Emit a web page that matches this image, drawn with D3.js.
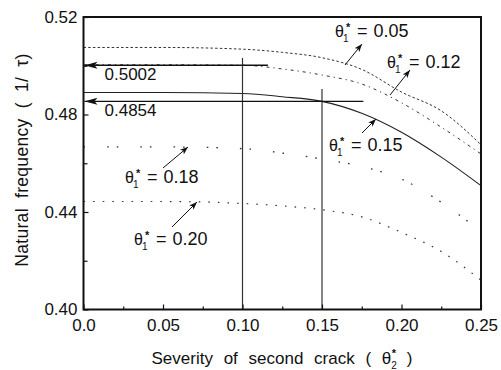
<!DOCTYPE html>
<html>
<head>
<meta charset="utf-8">
<script src="https://cdn.jsdelivr.net/npm/d3@7"></script>
<style>
  html, body { margin: 0; padding: 0; background: #fff; }
  svg text { font-family: "Liberation Sans", Arial, sans-serif; fill: #111; }
</style>
</head>
<body>
<svg id="chart" width="501" height="370"></svg>
<script>
// Severity of the second crack (theta2*)
const severity = [0, 0.05, 0.10, 0.125, 0.15, 0.175, 0.20, 0.225, 0.25];

// Natural frequency (1/tau) for each first-crack severity theta1*
const freq005 = [0.5075, 0.5075, 0.5068, 0.5055, 0.5033, 0.4985, 0.4892, 0.4815, 0.4676];
const freq012 = [0.5004, 0.5004, 0.5002, 0.4987, 0.4962, 0.4925, 0.4848, 0.4748, 0.4638];
const freq015 = [0.4890, 0.4890, 0.4886, 0.4873, 0.4854, 0.4805, 0.4727, 0.4625, 0.4508];
const freq018 = [0.4667, 0.4667, 0.4660, 0.4642, 0.4617, 0.4587, 0.4535, 0.4440, 0.4320];
const freq020 = [0.4443, 0.4443, 0.4435, 0.4425, 0.4409, 0.4380, 0.4316, 0.4238, 0.4120];

const seriesNames = ["0.05", "0.12", "0.15", "0.18", "0.20"];

// Read-off guides: second-crack severity and the frequency it gives
const guideSeverity = [0.10, 0.15];
const guideFrequency = [0.5002, 0.4854];
const guideTop = [0.5032, 0.4905];
const guideArrowStart = [0.116, 0.176];

const xTicks = [0, 0.05, 0.10, 0.15, 0.20, 0.25];
const xTickLabels = ["0.0", "0.05", "0.10", "0.15", "0.20", "0.25"];
const yTicks = [0.40, 0.44, 0.48, 0.52];
const yTickLabels = ["0.40", "0.44", "0.48", "0.52"];

const svg = d3.select("#chart");
const plotLeft = 83.5, plotRight = 481, plotTop = 17, plotBottom = 309.5;

const x = d3.scaleLinear().domain([0, 0.25]).range([plotLeft, plotRight]);
const y = d3.scaleLinear().domain([0.40, 0.52]).range([plotBottom, plotTop]);

// arrow heads
const defs = svg.append("defs");
defs.append("marker")
  .attr("id", "bigHead").attr("viewBox", "0 0 13 8")
  .attr("refX", 13).attr("refY", 4)
  .attr("markerWidth", 13).attr("markerHeight", 8)
  .attr("markerUnits", "userSpaceOnUse").attr("orient", "auto")
  .append("path").attr("d", "M0,0.5 L13,4 L0,7.5 L3,4 Z").attr("fill", "#111");
defs.append("marker")
  .attr("id", "smallHead").attr("viewBox", "0 0 8 6")
  .attr("refX", 8).attr("refY", 3)
  .attr("markerWidth", 8).attr("markerHeight", 6)
  .attr("markerUnits", "userSpaceOnUse").attr("orient", "auto")
  .append("path").attr("d", "M0,0 L8,3 L0,6 L2,3 Z").attr("fill", "#111");

// curves
const series = [freq005, freq012, freq015, freq018, freq020];
const dashes = ["2.5,2.2", "3,4,1.2,4", null, "1.6,22,1.6,8", "1.6,8"];
const widths = [1, 1, 1.1, 1.3, 1.2];
const colors = ["#333", "#333", "#222", "#333", "#333"];
const line = d3.line()
  .x((d, i) => x(severity[i]))
  .y(d => y(d))
  .curve(d3.curveMonotoneX);

svg.append("g").selectAll("path")
  .data(series)
  .join("path")
  .attr("d", d => line(d))
  .attr("fill", "none")
  .attr("stroke", (d, i) => colors[i])
  .attr("stroke-width", (d, i) => widths[i])
  .attr("stroke-dasharray", (d, i) => dashes[i]);

// vertical guides at the chosen second-crack severities
svg.append("g").selectAll("line")
  .data(guideSeverity)
  .join("line")
  .attr("x1", d => x(d)).attr("x2", d => x(d))
  .attr("y1", y(0.40)).attr("y2", (d, i) => y(guideTop[i]))
  .attr("stroke", "#333").attr("stroke-width", 1.2);

// horizontal arrows to the frequency axis
svg.append("g").selectAll("line")
  .data(guideFrequency)
  .join("line")
  .attr("x1", (d, i) => x(guideArrowStart[i])).attr("x2", x(0) + 1)
  .attr("y1", d => y(d)).attr("y2", d => y(d))
  .attr("stroke", "#111").attr("stroke-width", 1.3)
  .attr("marker-end", "url(#bigHead)");

svg.append("g").selectAll("text")
  .data(guideFrequency)
  .join("text")
  .attr("x", x(0) + 21)
  .attr("y", d => y(d) + 15)
  .attr("font-size", 17)
  .text(d => d.toFixed(4));

// axes
const xAxis = d3.axisBottom(x).tickValues(xTicks).tickSize(-5).tickFormat((d, i) => xTickLabels[i]);
const xMinor = d3.axisBottom(x).tickValues(d3.range(0.025, 0.25, 0.05)).tickSize(-3).tickFormat("");
const yAxis = d3.axisLeft(y).tickValues(yTicks).tickSize(-5).tickFormat((d, i) => yTickLabels[i]);
const yMinor = d3.axisLeft(y).tickValues([0.42, 0.46, 0.50]).tickSize(-4).tickFormat("");

function styleAxis(g) {
  g.select(".domain").remove();
  g.selectAll(".tick line").attr("stroke", "#111").attr("stroke-width", 1.2);
  g.selectAll(".tick text").attr("font-size", 17).attr("fill", "#111")
    .attr("font-family", "Liberation Sans, Arial, sans-serif");
}

svg.append("g").attr("transform", `translate(0,${plotBottom})`).call(xAxis).call(styleAxis)
  .call(g => g.selectAll(".tick text").attr("dy", null).attr("y", 21));
svg.append("g").attr("transform", `translate(0,${plotBottom})`).call(xMinor).call(styleAxis);
svg.append("g").attr("transform", `translate(${plotLeft},0)`).call(yAxis).call(styleAxis)
  .call(g => g.selectAll(".tick text").attr("x", -6));
svg.append("g").attr("transform", `translate(${plotLeft},0)`).call(yMinor).call(styleAxis);

// frame
svg.append("rect")
  .attr("x", plotLeft).attr("y", plotTop)
  .attr("width", plotRight - plotLeft).attr("height", plotBottom - plotTop)
  .attr("fill", "none").attr("stroke", "#111").attr("stroke-width", 2);

// curve labels: theta1* = value, with leader arrows
const labelX = [335, 387, 329, 125, 134];
const labelY = [37, 68, 151, 183, 245];
const leaderFrom = [[345, 65], [390, 95], [362, 133], [163, 168], [172, 227]];
const leaderTo = [[362, 44], [410, 70], [376, 119], [188, 147], [197, 202]];

const labels = svg.append("g").selectAll("g")
  .data(seriesNames)
  .join("g")
  .attr("transform", (d, i) => `translate(${labelX[i]},${labelY[i]})`);
labels.append("text").attr("font-size", 16).text("θ");
labels.append("text").attr("x", 8).attr("y", 5).attr("font-size", 10).text("1");
labels.append("text").attr("x", 11).attr("y", -6).attr("font-size", 11).attr("font-weight", "bold").text("*");
labels.append("text").attr("x", 22).attr("font-size", 18).attr("word-spacing", 1).text(d => "= " + d);

svg.append("g").selectAll("line")
  .data(seriesNames)
  .join("line")
  .attr("x1", (d, i) => leaderFrom[i][0]).attr("y1", (d, i) => leaderFrom[i][1])
  .attr("x2", (d, i) => leaderTo[i][0]).attr("y2", (d, i) => leaderTo[i][1])
  .attr("stroke", "#111").attr("stroke-width", 1)
  .attr("marker-end", "url(#smallHead)");

// axis titles
const xTitle = svg.append("text")
  .attr("x", 282).attr("y", 364)
  .attr("text-anchor", "middle")
  .attr("font-size", 17)
  .attr("word-spacing", 6);
xTitle.append("tspan").text("Severity of second crack ( θ");
xTitle.append("tspan").attr("font-size", 10).attr("dy", 5).text("2");
xTitle.append("tspan").attr("font-size", 11).attr("font-weight", "bold").attr("dy", -12).attr("dx", -5).text("*");
xTitle.append("tspan").attr("dy", 7).text(" )");

svg.append("text")
  .attr("transform", "translate(28,160) rotate(-90)")
  .attr("text-anchor", "middle")
  .attr("font-size", 17.5)
  .attr("word-spacing", 5)
  .attr("letter-spacing", 0.3)
  .text("Natural frequency ( 1/ τ)");
</script>
</body>
</html>
